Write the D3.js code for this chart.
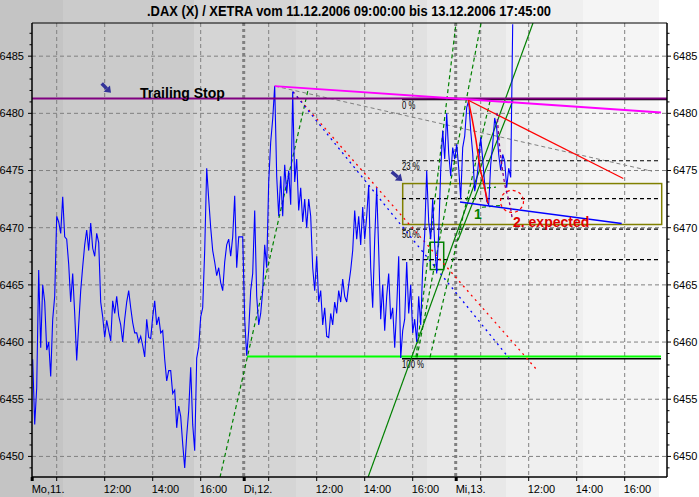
<!DOCTYPE html>
<html><head><meta charset="utf-8">
<script src="https://cdn.jsdelivr.net/npm/d3@7"></script>
<style>body{margin:0;background:#fff;} svg{display:block;font-family:"Liberation Sans",Arial,sans-serif;}</style>
</head><body><svg id="c" width="699" height="497"></svg>
<script>
// ---------- data ----------
const title = ".DAX (X) / XETRA vom 11.12.2006 09:00:00 bis 13.12.2006 17:45:00";
const dayLabels = ["Mo,11.", "Di,12.", "Mi,13."];
const gridHours = [10, 12, 14, 16];
const labelHours = [12, 14, 16];
const yTicks = [6450, 6455, 6460, 6465, 6470, 6475, 6480, 6485];
const stepMin = 5, dayMin = 530;

const mon = [6458.5,6452.8,6456,6466.3,6459.5,6465,6463.5,6459.3,6460,6457,
6462,6464,6471,6470.5,6469.5,6472.7,6469.2,6469,6466.8,6463.5,
6466,6462.5,6458.4,6461.5,6464.5,6466.6,6468.5,6469.8,6468,6470.4,
6468.2,6467.5,6469.5,6468.7,6463.5,6462.2,6460.4,6461.9,6461,6460.1,
6463.6,6462.5,6464,6462.3,6461.5,6460,6462,6463.5,6464.5,6463,
6461.7,6460.8,6460.8,6460,6460.5,6459.7,6458.7,6462,6460.4,6460.3,
6462.2,6463.6,6461.5,6462.2,6460.8,6461,6458.5,6456.6,6457.5,6457.5,
6455.5,6455.8,6452.5,6454.4,6453.5,6451.1,6449,6451.8,6454,6457.8,
6452.8,6450.5,6458.6,6459.6,6462.2,6463,6468,6475.2,6472.5,6470,
6468,6467,6465.8,6466.5,6465.2,6464.5,6467,6468.5,6469,6467.5,
6469.2,6472.8,6466.5,6469.2,6469.2,6469.2];
const tue = [6462,6458.8,6461,6464.5,6466,6471.5,6464,6461.5,6462.5,
6464.5,6468.5,6466.5,6474,6477.5,6479.5,6482.4,6474.5,6471,6474.5,
6471,6475.5,6473,6475,6472,6481.9,6474,6476,6471.5,6473.5,
6470.5,6472.5,6470,6472.5,6471,6466.5,6464.5,6467.5,6463.5,6464.5,
6461.5,6463,6460.5,6460.4,6462.5,6461.5,6463.5,6462.5,6464.5,6463.5,
6465.5,6464,6463.5,6465,6466.3,6468,6471.5,6469,6471,6468.5,
6471.8,6469,6471,6473.7,6466.5,6463,6469,6473.5,6468,6462,
6465,6461,6464,6466,6462,6463,6459.5,6463,6467.5,6458.6,
6461,6462,6467,6462.5,6465,6460.8,6462,6460,6464,6461.5,
6466.5,6469.5,6475,6470.5,6469,6472.5,6468.5,6466,6469.5,6475,
6478.5,6476,6480,6476.5,6474.5,6477,6476];
const wed = [6477.3,6475.2,6472.5,6477,6478,6480.5,6481.1,6478.5,6476.5,6473.2,
6474.2,6475.8,6477.9,6476,6473.8,6472.3,6472,6475.5,6477.3,6479.6,
6478.7,6476.4,6475,6476.4,6475.8,6473.5,6475.2,6474.4,6487.8];

// annotations: [time index (minutes), value]
const trailingStop = 6481.3;
const magentaLine = [[605, 6482.38], [1570.75, 6480.07]];
const greyDashed = [[605.75, 6482.38], [1548.25, 6474.94]];
const redDotted = [[650.75, 6481.88], [1260, 6457.59]];
const blueDotted = [[650.75, 6481.88], [1190.75, 6458.6]];
const redTrend = [[1089, 6481.15], [1476.5, 6474.3]];
const redWave = [[1089, 6481.15], [1098.25, 6479.58], [1108.25, 6477.65], [1118.25, 6475.2], [1128.25, 6473.71], [1138.25, 6472.14]];
const blueTrend = [[1068.25, 6472.25], [1472.5, 6470.36]];
const oliveBox = {t: [925, 1572.5], v: [6470.28, 6473.86]};
const greenBox = {t: [994, 1027.5], v: [6466.34, 6468.73]};
const fibRange = {t: [923.25, 1570.75], high: 6481.2, low: 6458.55};
const fibLevels = [0, 0.236, 0.382, 0.5, 0.618, 1];
const fibLabels = ["0 %", "23 %", "", "50 %", "", "100 %"];
const brightGreen = {t: [535.75, 1570.75], v: 6458.73};
const greenSolid = [
  [[838.25, 6448.17], [1250.75, 6487.9]],
  [[1063.25, 6468.9], [1200.75, 6481.15]]
];
const greenDashed = [
  [[468.25, 6448.17], [688.25, 6482.03]],
  [[958.25, 6458.67], [1058.25, 6487.89]],
  [[960.75, 6458.67], [1120.75, 6487.89]],
  [[993.25, 6458.67], [1143.25, 6481.06]],
  [[1118.25, 6473.45], [1158.25, 6473.54]],
  [[1123.25, 6471.79], [1175.75, 6471.96]]
];
const purpleDashed = [[1160.75, 6480.01], [1168.25, 6476.78], [1180.75, 6473.71], [1193.25, 6471.96], [1198.25, 6470.91]];
const redEllipse = {t: 1198.25, v: 6472.3, rt: 28.75, rv: 0.96};
const arrows = [[[172.5, 6482.61], [195.75, 6481.79]], [[897.5, 6474.88], [924, 6474.09]]];
const notes = [
  {text: "Trailing Stop", t: 268.5, v: 6481.37, color: "#000", size: 14},
  {text: "2. expected", t: 1200.75, v: 6470.04, color: "#e00000", size: 14},
  {text: "1", t: 1103.25, v: 6470.74, color: "#008000", size: 14}
];

// ---------- layout ----------
const W = 699, H = 497;
const L = 32, R = 667, T = 23, B = 477;
const svg = d3.select("#c");
const x = d3.scaleLinear().domain([0, 1585.75]).range([32.7, R]);
const y = d3.scaleLinear().domain([6448.2, 6487.9]).range([B, T]);

const bands = [[0,63,"#c4c4c4"],[63,194,"#cbcbcb"],[194,296,"#d5d5d5"],[296,360,"#dbdbdb"],
  [360,427,"#e1e1e1"],[427,506,"#e8e8e8"],[506,583,"#efefef"],[583,659,"#f5f5f5"],[659,699,"#ffffff"]];
svg.selectAll("rect.band").data(bands).join("rect")
  .attr("x", d => d[0]).attr("y", 0).attr("width", d => d[1]-d[0]).attr("height", H).attr("fill", d => d[2]);

svg.append("text").attr("x", 147).attr("y", 15.5).attr("font-size", 15).attr("font-weight", "bold")
  .attr("textLength", 404).attr("lengthAdjust", "spacingAndGlyphs").text(title);

svg.append("clipPath").attr("id", "clip").append("rect").attr("x", L).attr("y", T).attr("width", R-L).attr("height", B-T);
const g = svg.append("g").attr("clip-path", "url(#clip)");

g.selectAll("line.hg").data(yTicks).join("line")
  .attr("x1", L).attr("x2", R).attr("y1", d => y(d)).attr("y2", d => y(d))
  .attr("stroke", "#808080").attr("stroke-dasharray", "4,3");
const hourT = [];
for (let d = 0; d < 3; d++) gridHours.forEach(h => hourT.push({t: d*dayMin + (h-9)*60, h}));
g.selectAll("line.vg").data(hourT).join("line")
  .attr("x1", d => x(d.t)).attr("x2", d => x(d.t)).attr("y1", T).attr("y2", B)
  .attr("stroke", "#808080").attr("stroke-dasharray", "4,3");
g.selectAll("line.ds").data([1, 2]).join("line")
  .attr("x1", d => x(d*dayMin) - 1).attr("x2", d => x(d*dayMin) - 1).attr("y1", T).attr("y2", B)
  .attr("stroke", "#808080").attr("stroke-width", 3).attr("stroke-dasharray", "3,3");

const line = d3.line().x(d => x(d[0])).y(d => y(d[1]));

const series = [];
[mon, tue, wed].forEach((arr, d) => arr.forEach((v, i) => series.push([d*dayMin + i*stepMin, v])));

g.append("path").attr("d", line(greyDashed)).attr("fill", "none").attr("stroke", "#808080").attr("stroke-dasharray", "4,3");
g.append("rect").attr("x", x(oliveBox.t[0])).attr("y", y(oliveBox.v[1]))
  .attr("width", x(oliveBox.t[1]) - x(oliveBox.t[0])).attr("height", y(oliveBox.v[0]) - y(oliveBox.v[1]))
  .attr("fill", "none").attr("stroke", "#808000").attr("stroke-width", 1.5);
g.append("rect").attr("x", x(greenBox.t[0])).attr("y", y(greenBox.v[1]))
  .attr("width", x(greenBox.t[1]) - x(greenBox.t[0])).attr("height", y(greenBox.v[0]) - y(greenBox.v[1]))
  .attr("fill", "none").attr("stroke", "#008000").attr("stroke-width", 1.5);

fibLevels.forEach((lv, i) => {
  const v = fibRange.high - lv * (fibRange.high - fibRange.low);
  const solid = lv === 0 || lv === 1;
  g.append("line").attr("x1", x(fibRange.t[0])).attr("x2", lv === 0 ? R : x(fibRange.t[1]))
    .attr("y1", y(v)).attr("y2", y(v)).attr("stroke", "#000").attr("stroke-width", solid ? 1.5 : 1.2)
    .attr("stroke-dasharray", solid ? null : "4,3");
  if (fibLabels[i]) g.append("text").attr("x", x(fibRange.t[0])).attr("y", y(v) + 9)
    .attr("font-size", 10).attr("textLength", fibLabels[i].length * 4.4).attr("lengthAdjust", "spacingAndGlyphs")
    .text(fibLabels[i]);
});

g.append("line").attr("x1", x(brightGreen.t[0])).attr("x2", x(brightGreen.t[1]))
  .attr("y1", y(brightGreen.v)).attr("y2", y(brightGreen.v)).attr("stroke", "#00ff00").attr("stroke-width", 2);

g.selectAll("path.gs").data(greenSolid).join("path").attr("d", line)
  .attr("fill", "none").attr("stroke", "#008000").attr("stroke-width", 1.2);
g.selectAll("path.gd").data(greenDashed).join("path").attr("d", line)
  .attr("fill", "none").attr("stroke", "#008000").attr("stroke-width", 1.2).attr("stroke-dasharray", "4,3");

g.append("path").attr("d", line(redDotted)).attr("fill", "none").attr("stroke", "#ff0000").attr("stroke-width", 1.3).attr("stroke-dasharray", "2,4");
g.append("path").attr("d", line(blueDotted)).attr("fill", "none").attr("stroke", "#0000ff").attr("stroke-width", 1.3).attr("stroke-dasharray", "2,4");

g.append("path").attr("d", line(series)).attr("fill", "none").attr("stroke", "#0000ff").attr("stroke-width", 1.1);

g.append("line").attr("x1", L).attr("x2", R).attr("y1", y(trailingStop)).attr("y2", y(trailingStop))
  .attr("stroke", "#800080").attr("stroke-width", 2);
g.append("path").attr("d", line(magentaLine)).attr("fill", "none").attr("stroke", "#ff00ff").attr("stroke-width", 2);
g.append("path").attr("d", line(redTrend)).attr("fill", "none").attr("stroke", "#ff0000").attr("stroke-width", 1.2);
g.append("path").attr("d", line(redWave)).attr("fill", "none").attr("stroke", "#ff0000").attr("stroke-width", 1.5);
g.append("path").attr("d", line(blueTrend)).attr("fill", "none").attr("stroke", "#0000ff").attr("stroke-width", 1.5);
g.append("path").attr("d", d3.line().curve(d3.curveCatmullRom).x(d => x(d[0])).y(d => y(d[1]))(purpleDashed))
  .attr("fill", "none").attr("stroke", "#800080").attr("stroke-width", 1.3).attr("stroke-dasharray", "3,3");
const ell = d3.range(0, 361, 10).map(a => [redEllipse.t + redEllipse.rt*Math.cos(a*Math.PI/180), redEllipse.v + redEllipse.rv*Math.sin(a*Math.PI/180)]);
g.append("path").attr("d", d3.line().curve(d3.curveCardinalClosed).x(d => x(d[0])).y(d => y(d[1]))(ell))
  .attr("fill", "none").attr("stroke", "#ff0000").attr("stroke-width", 1.2).attr("stroke-dasharray", "3,3");

arrows.forEach(a => {
  const p1 = [x(a[0][0]), y(a[0][1])], p2 = [x(a[1][0]), y(a[1][1])];
  const ang = Math.atan2(p2[1]-p1[1], p2[0]-p1[0]);
  const hl = 6, hw = 4.5;
  const bx = p2[0] - hl*Math.cos(ang), by = p2[1] - hl*Math.sin(ang);
  g.append("line").attr("x1", p1[0]).attr("y1", p1[1]).attr("x2", bx).attr("y2", by)
    .attr("stroke", "#333399").attr("stroke-width", 3.5);
  g.append("polygon").attr("fill", "#333399").attr("points", [
    [p2[0], p2[1]],
    [bx + hw*Math.sin(ang), by - hw*Math.cos(ang)],
    [bx - hw*Math.sin(ang), by + hw*Math.cos(ang)]].map(p => p.join(",")).join(" "));
});

notes.forEach(n => g.append("text").attr("x", x(n.t)).attr("y", y(n.v)).attr("fill", n.color)
  .attr("font-size", n.size).attr("font-weight", "bold").text(n.text));

svg.append("line").attr("x1", L).attr("x2", R).attr("y1", T).attr("y2", T).attr("stroke", "#000");
svg.append("line").attr("x1", L).attr("x2", R).attr("y1", B).attr("y2", B).attr("stroke", "#000").attr("stroke-width", 1.5);
svg.append("line").attr("x1", L).attr("x2", L).attr("y1", T).attr("y2", B).attr("stroke", "#000").attr("stroke-width", 1.5);
svg.append("line").attr("x1", R).attr("x2", R).attr("y1", T).attr("y2", B).attr("stroke", "#000").attr("stroke-width", 1.5);

const minor = d3.range(6449, 6488, 1);
[[L, -1], [R, 1]].forEach(([ax, dir]) => {
  svg.selectAll(null).data(minor).join("line")
    .attr("x1", ax).attr("x2", d => ax + dir * (d % 5 === 0 ? 4 : 2.5))
    .attr("y1", d => y(d)).attr("y2", d => y(d)).attr("stroke", "#000");
});
svg.selectAll("text.yl").data(yTicks).join("text").attr("x", 24).attr("y", d => y(d)).attr("dy", "0.36em")
  .attr("text-anchor", "end").attr("font-size", 11).text(d => d);
svg.selectAll("text.yr").data(yTicks).join("text").attr("x", 673).attr("y", d => y(d)).attr("dy", "0.36em")
  .attr("font-size", 11).text(d => d);

svg.selectAll("line.xt").data(hourT).join("line")
  .attr("x1", d => x(d.t)).attr("x2", d => x(d.t)).attr("y1", B).attr("y2", B + 4).attr("stroke", "#000");
svg.selectAll("rect.dm").data([0, 1, 2]).join("rect")
  .attr("x", d => x(d*dayMin) - 2).attr("y", B).attr("width", 3).attr("height", 4).attr("fill", "#000");
svg.selectAll("text.xl").data(hourT.filter(d => labelHours.includes(d.h))).join("text")
  .attr("x", d => x(d.t) - 1).attr("y", 493).attr("font-size", 11).text(d => (d.h < 10 ? "0" : "") + d.h + ":00");
svg.selectAll("text.dl").data(dayLabels).join("text")
  .attr("x", (d, i) => x(i*dayMin) - 1).attr("y", 493).attr("font-size", 11).text(d => d);
</script></body></html>
